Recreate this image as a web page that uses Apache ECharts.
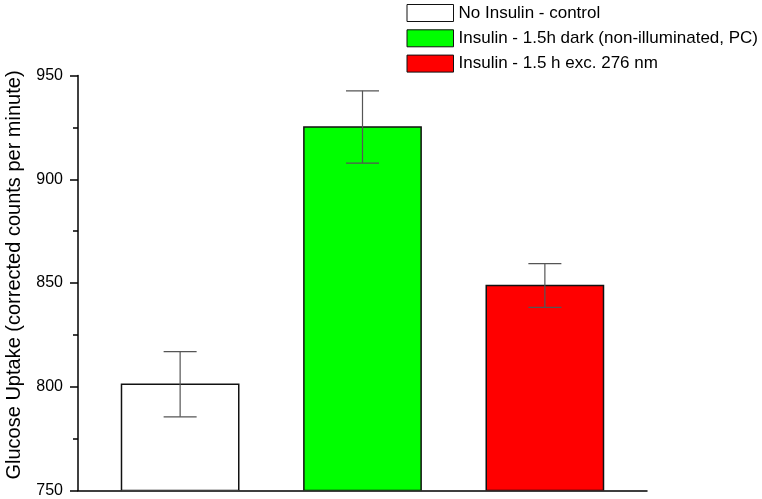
<!DOCTYPE html>
<html>
<head>
<meta charset="utf-8">
<script src="https://cdn.jsdelivr.net/npm/echarts@6/dist/echarts.min.js"></script>
<style>html,body{margin:0;padding:0;background:#fff;}#c{width:762px;height:499px;}</style>
</head>
<body>
<div id="c"></div>
<script>
// Data
const groups = ['No Insulin - control', 'Insulin - 1.5h dark (non-illuminated, PC)', 'Insulin - 1.5 h exc. 276 nm'];
const positions = [1, 2, 3];
const means = [801.2, 925.2, 848.8];
const errors = [15.7, 17.4, 10.5];
const yMin = 750, yMax = 950, yStep = 50;
const yTitle = 'Glucose Uptake (corrected counts per minute)';

const fills = ['#ffffff', '#00ff00', '#ff0000'];
const FONT = '"Liberation Sans", Arial, sans-serif';

function renderBar(params, api) {
  const x = api.value(0), y = api.value(1), e = api.value(2);
  const base = api.coord([x, yMin]);
  const top = api.coord([x, y]);
  const bw = api.size([1, 0])[0] * 0.643;
  const hi = api.coord([x, y + e]);
  const lo = api.coord([x, y - e]);
  const cap = 16.5;
  const fill = fills[params.seriesIndex];
  return {
    type: 'group',
    children: [
      { type: 'rect', shape: { x: top[0] - bw / 2, y: top[1], width: bw, height: base[1] - top[1] },
        style: { fill: fill, stroke: '#111', lineWidth: 1.5 } },
      { type: 'line', shape: { x1: hi[0], y1: hi[1], x2: lo[0], y2: lo[1] }, style: { stroke: '#555', lineWidth: 1.2 } },
      { type: 'line', shape: { x1: hi[0] - cap, y1: hi[1], x2: hi[0] + cap, y2: hi[1] }, style: { stroke: '#555', lineWidth: 1.2 } },
      { type: 'line', shape: { x1: lo[0] - cap, y1: lo[1], x2: lo[0] + cap, y2: lo[1] }, style: { stroke: '#555', lineWidth: 1.2 } }
    ]
  };
}

const series = groups.map((g, i) => ({
  type: 'custom',
  name: g,
  renderItem: renderBar,
  itemStyle: { color: fills[i], borderColor: '#111', borderWidth: 1 },
  encode: { x: 0, y: 1 },
  data: [[positions[i], means[i], errors[i]]],
  clip: true
}));

const chart = echarts.init(document.getElementById('c'), null, { renderer: 'canvas' });
chart.setOption({
  animation: false,
  backgroundColor: '#fff',
  grid: { left: 78, top: 75.5, width: 569, bottom: 8.5, containLabel: false, outerBoundsMode: 'none' },
  legend: {
    orient: 'vertical', left: 406.5, top: 4, padding: 0,
    icon: 'rect', itemWidth: 46.5, itemHeight: 17, itemGap: 7.3,
    itemStyle: { borderColor: '#111', borderWidth: 1 },
    textStyle: { fontFamily: FONT, fontSize: 17, color: '#000' },
    data: groups
  },
  xAxis: {
    type: 'value', min: 0.44, max: 3.56,
    axisLine: { show: true, onZero: false, lineStyle: { color: '#000', width: 1.5 } },
    axisTick: { show: false }, axisLabel: { show: false }, splitLine: { show: false }
  },
  yAxis: {
    type: 'value', min: yMin, max: yMax, interval: yStep,
    name: yTitle, nameLocation: 'middle', nameGap: 54,
    nameTextStyle: { fontFamily: FONT, fontSize: 20, color: '#000', padding: [0, 0, 0, 16] },
    axisLine: { show: true, lineStyle: { color: '#000', width: 1.5 } },
    axisTick: { show: true, length: 8, lineStyle: { color: '#000', width: 1.5 } },
    minorTick: { show: true, splitNumber: 2, length: 5, lineStyle: { color: '#000', width: 1.5 } },
    axisLabel: { fontFamily: FONT, fontSize: 16, color: '#000', margin: 15 },
    splitLine: { show: false }
  },
  series: series
});
</script>
</body>
</html>
